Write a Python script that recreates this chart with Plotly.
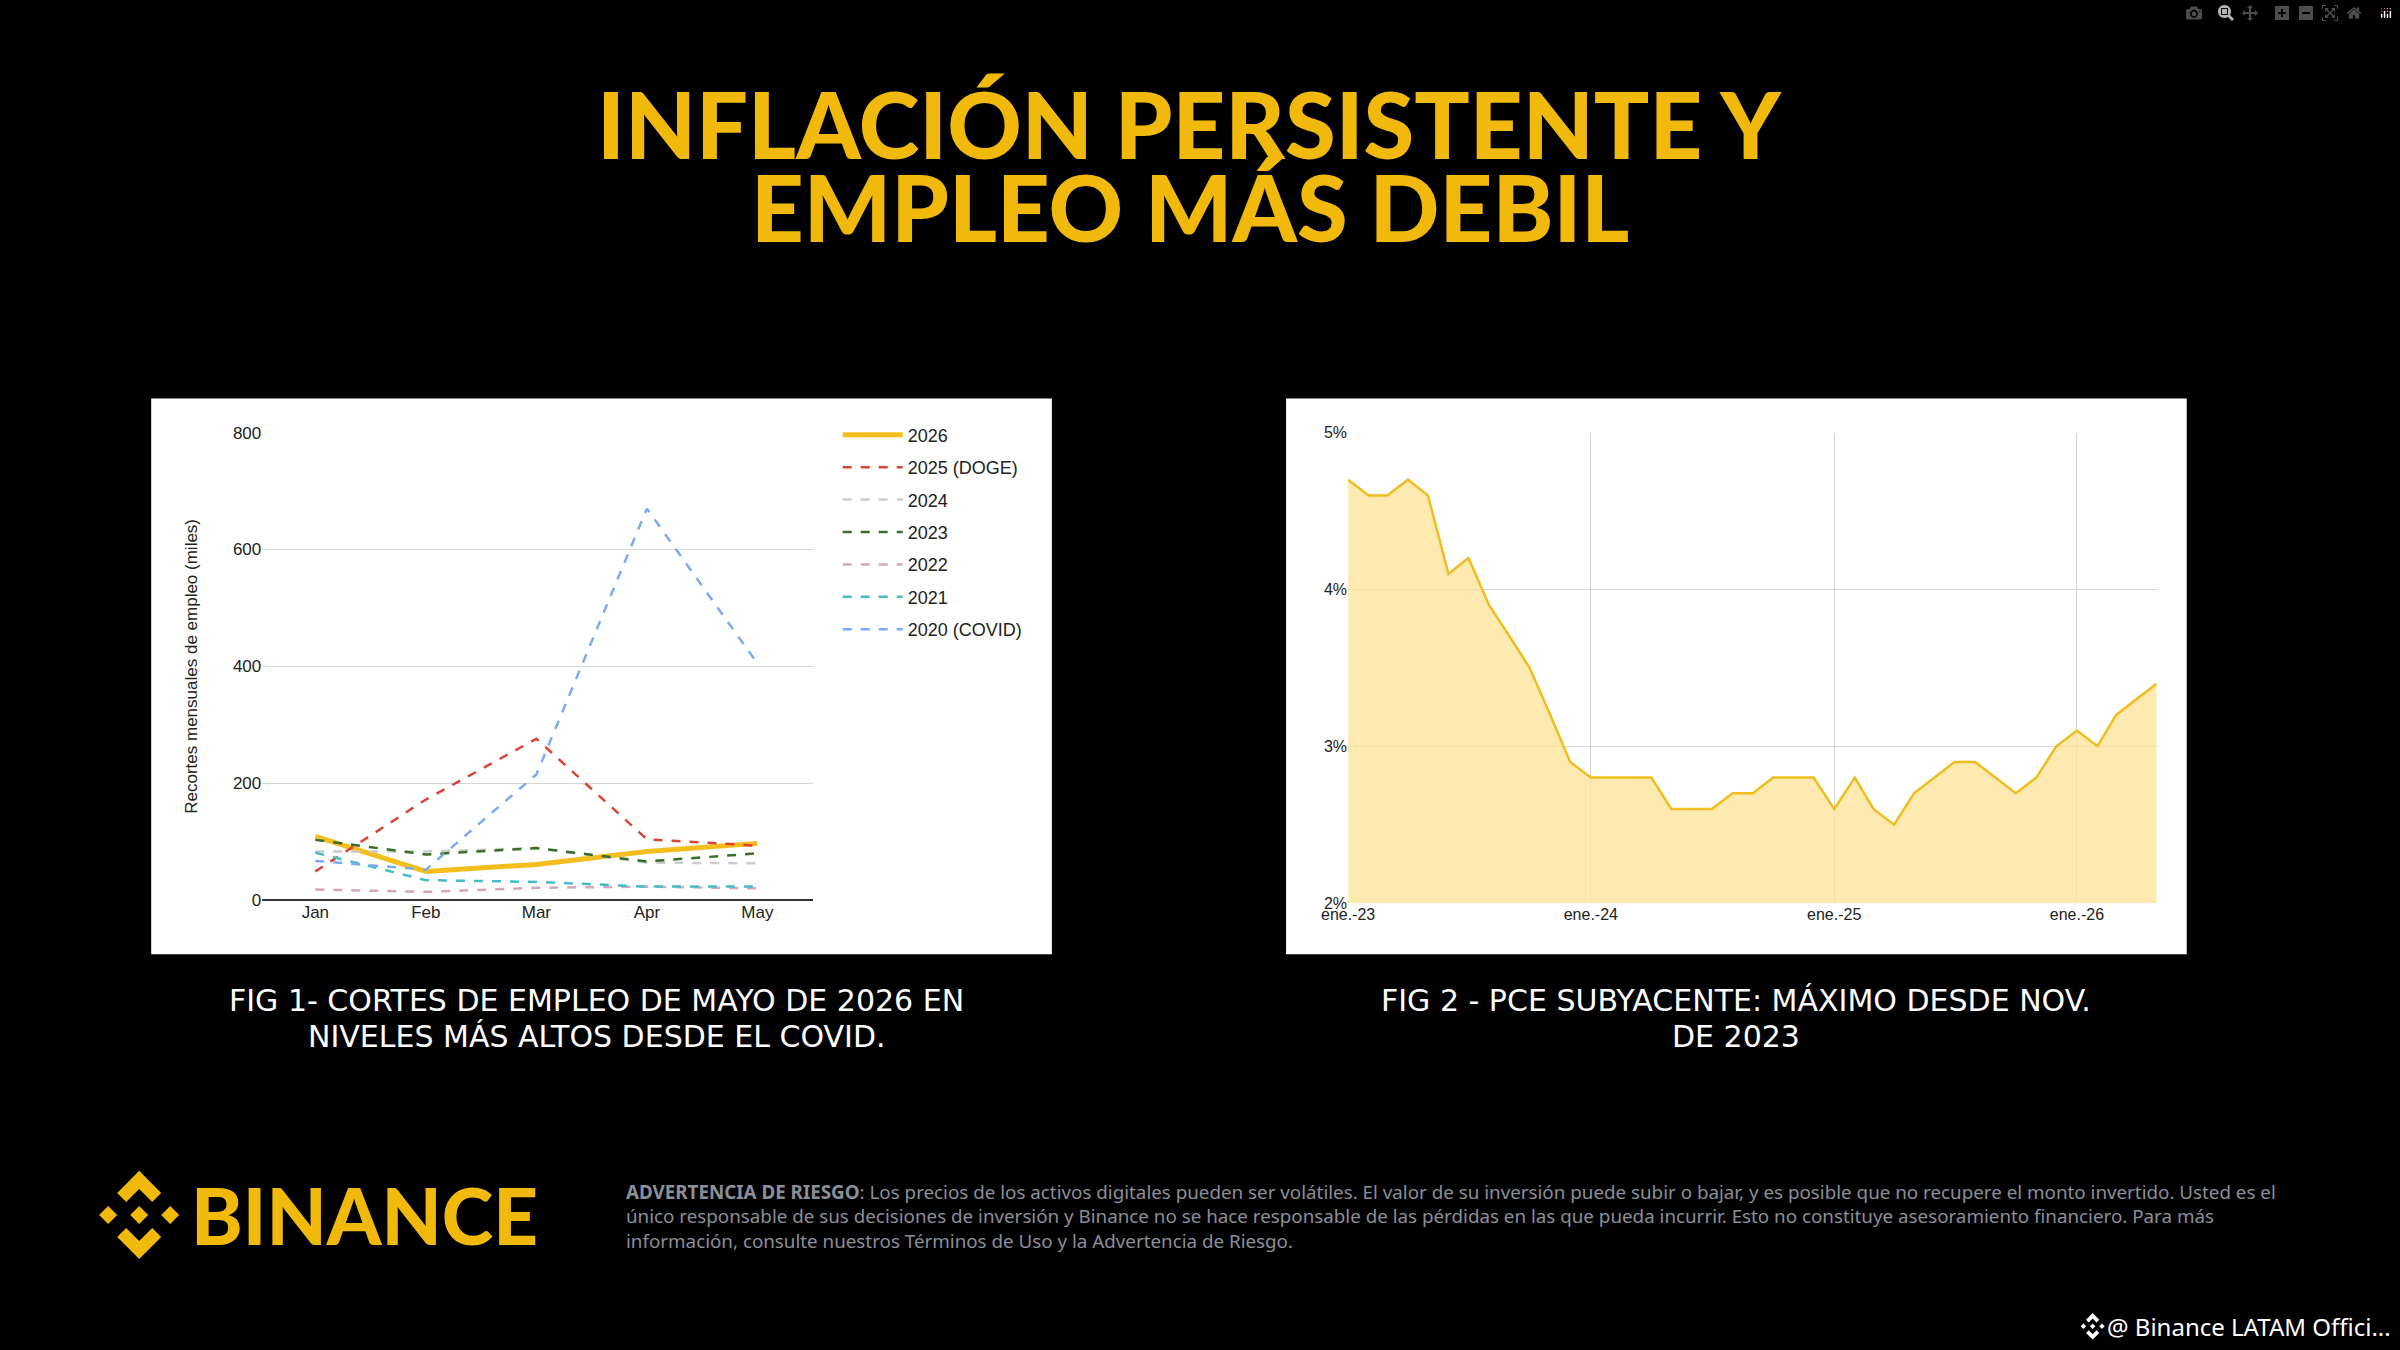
import plotly.graph_objects as go

W, H = 2400, 1350

# ---- Fig 1 data: monthly job cuts (thousands)
months = ['Jan', 'Feb', 'Mar', 'Apr', 'May']
cuts_2026 = [109, 49, 61, 83, 97]
cuts_2025 = [49, 172, 276, 104, 93]
cuts_2024 = [83, 83, 89, 64, 63]
cuts_2023 = [103, 78, 89, 66, 80]
cuts_2022 = [18, 14, 21, 23, 20]
cuts_2021 = [81, 34, 31, 23, 23]
cuts_2020 = [67, 52, 215, 670, 405]

# ---- Fig 2 data: core PCE, monthly from Jan 2023
pce_start = '2023-01-01'
pce_values = [4.7, 4.6, 4.6, 4.7, 4.6, 4.1, 4.2, 3.9, 3.7, 3.5, 3.2, 2.9,
              2.8, 2.8, 2.8, 2.8, 2.6, 2.6, 2.6, 2.7, 2.7, 2.8, 2.8, 2.8,
              2.6, 2.8, 2.6, 2.5, 2.7, 2.8, 2.9, 2.9, 2.8, 2.7, 2.8, 3.0,
              3.1, 3.0, 3.2, 3.3, 3.4]
pce_ticks = ['2023-01-01', '2024-01-01', '2025-01-01', '2026-01-01']
pce_ticktext = ['ene.-23', 'ene.-24', 'ene.-25', 'ene.-26']


def month_add(start, n):
    y, m = int(start[:4]), int(start[5:7])
    m0 = (y * 12 + m - 1) + n
    return f'{m0 // 12}-{m0 % 12 + 1:02d}-01'


pce_dates = [month_add(pce_start, i) for i in range(len(pce_values))]


# pixel -> paper, with a small correction for how the page ends up photographed
def px(x):
    return ((x - 27.9) / 0.988) / W


def py(y):
    return 1 - ((y - 9.6) / 0.983) / H


fig = go.Figure()

series = [
    ('2026', cuts_2026, '#F4BE1E', 'solid', 5),
    ('2025 (DOGE)', cuts_2025, '#DB4437', 'dash', 2.5),
    ('2024', cuts_2024, '#CCCCCC', 'dash', 2.5),
    ('2023', cuts_2023, '#3A6E28', 'dash', 2.5),
    ('2022', cuts_2022, '#D5A6BD', 'dash', 2.5),
    ('2021', cuts_2021, '#46BDC6', 'dash', 2.5),
    ('2020 (COVID)', cuts_2020, '#7BAAF7', 'dash', 2.5),
]
for name, vals, col, dash, w in series:
    fig.add_trace(go.Scatter(x=months, y=vals, name=name, mode='lines', legendgroup=name,
                             line=dict(color=col, dash=dash, width=w),
                             xaxis='x', yaxis='y'))

fig.add_trace(go.Scatter(x=pce_dates, y=pce_values, mode='lines', fill='tozeroy',
                         line=dict(color='#F0BE1E', width=2.5),
                         fillcolor='rgba(253,226,150,0.75)', showlegend=False,
                         xaxis='x2', yaxis='y2'))

tick_font = dict(family='Liberation Sans', size=17, color='#222222')

fig.update_layout(
    width=W, height=H,
    paper_bgcolor='black', plot_bgcolor='white',
    margin=dict(l=0, r=0, t=0, b=0),
    showlegend=True,
    legend=dict(x=px(838), y=py(416), xanchor='left', yanchor='top',
                bgcolor='rgba(0,0,0,0)', tracegroupgap=6, itemwidth=60,
                font=dict(family='Liberation Sans', size=18, color='#222222')),
    xaxis=dict(domain=[px(263), px(813)], range=[-0.48, 4.5], showgrid=False,
               tickfont=tick_font, ticks='', showline=False, zeroline=False),
    yaxis=dict(domain=[py(898), py(432)], range=[0, 800], dtick=200,
               gridcolor='#D6D6D6', tickfont=tick_font, zeroline=True,
               zerolinecolor='#333333', zerolinewidth=2, ticks='',
               title=dict(text='Recortes mensuales de empleo (miles)',
                          font=dict(family='Liberation Sans', size=17, color='#222222'),
                          standoff=30)),
    xaxis2=dict(domain=[px(1348), px(2156)], type='date',
                range=['2023-01-01', pce_dates[-1]], tickvals=pce_ticks,
                ticktext=pce_ticktext, showgrid=True, gridcolor='#D6D6D6',
                tickfont=dict(family='Liberation Sans', size=16, color='#222222'),
                anchor='y2'),
    yaxis2=dict(domain=[py(901), py(432)], range=[2, 5], dtick=1, ticksuffix='%',
                gridcolor='#D6D6D6', anchor='x2', zeroline=False,
                tickfont=dict(family='Liberation Sans', size=16, color='#222222')),
)

# white panels
for x0 in (152, 1286):
    fig.add_shape(type='rect', xref='paper', yref='paper', layer='below',
                  x0=px(x0), x1=px(x0 + 900), y0=py(952), y1=py(398),
                  fillcolor='white', line=dict(width=0))


def text(t, x, y, size, color, family='Lato', weight=400, xanchor='center'):
    fig.add_annotation(text=t, x=px(x), y=py(y), xref='paper', yref='paper',
                       xanchor=xanchor, yanchor='middle', showarrow=False, align='left',
                       font=dict(family=family, size=size, color=color, weight=weight))


# titles
text('INFLACIÓN PERSISTENTE Y', 1190, 124, 92, '#F0B90B', weight=900)
text('EMPLEO MÁS DEBIL', 1190, 207, 92, '#F0B90B', weight=900)

cap_font = 'DejaVu Sans'
text('FIG 1- CORTES DE EMPLEO DE MAYO DE 2026 EN', 597, 998, 30, 'white', family=cap_font)
text('NIVELES MÁS ALTOS DESDE EL COVID.', 597, 1034, 30, 'white', family=cap_font)
text('FIG 2 - PCE SUBYACENTE: MÁXIMO DESDE NOV.', 1736, 998, 30, 'white', family=cap_font)
text('DE 2023', 1736, 1034, 30, 'white', family=cap_font)


def diamond(cx, cy, r):
    return (f'M {px(cx)},{py(cy - r)} L {px(cx + r)},{py(cy)} '
            f'L {px(cx)},{py(cy + r)} L {px(cx - r)},{py(cy)} Z')


def logo(cx, cy, k, color):
    paths = [diamond(cx, cy, 9 * k), diamond(cx - 31 * k, cy, 9 * k), diamond(cx + 31 * k, cy, 9 * k)]
    for s in (-1, 1):
        pts = [(cx, cy + s * 44 * k), (cx + 22 * k, cy + s * 22 * k), (cx + 13 * k, cy + s * 13 * k),
               (cx, cy + s * 26 * k), (cx - 13 * k, cy + s * 13 * k), (cx - 22 * k, cy + s * 22 * k)]
        paths.append('M ' + ' L '.join(f'{px(a)},{py(b)}' for a, b in pts) + ' Z')
    for p in paths:
        fig.add_shape(type='path', path=p, xref='paper', yref='paper',
                      fillcolor=color, line=dict(width=0))


logo(140, 1212, 1.0, '#F0B90B')
logo(2092, 1323, 0.3, 'white')

text('BINANCE', 190, 1212, 78, '#F0B90B', weight=900, xanchor='left')

disc = ('<b>ADVERTENCIA DE RIESGO</b>: Los precios de los activos digitales pueden ser volátiles. '
        'El valor de su inversión puede subir o bajar, y es posible que no recupere el monto invertido. Usted es el<br>'
        'único responsable de sus decisiones de inversión y Binance no se hace responsable de las pérdidas en las que pueda incurrir. '
        'Esto no constituye asesoramiento financiero. Para más<br>'
        'información, consulte nuestros Términos de Uso y la Advertencia de Riesgo.')
text(disc, 624, 1214, 18.8, '#8A8F99', family='Noto Sans', xanchor='left')

text('@ Binance LATAM Offici...', 2104, 1323, 24, 'white', family='Noto Sans', xanchor='left')

fig.write_html('out.html', post_script="document.body.style.margin='0';")
